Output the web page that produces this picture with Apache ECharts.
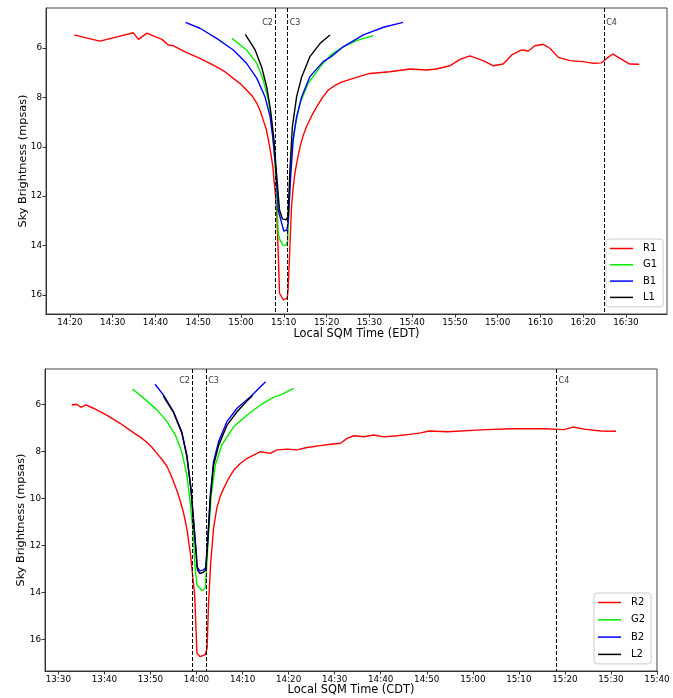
<!DOCTYPE html>
<html><head><meta charset="utf-8">
<script src="https://cdn.jsdelivr.net/npm/echarts@6/dist/echarts.min.js"></script>
<style>html,body{margin:0;padding:0;background:#fff}#c{width:673px;height:698px}</style>
</head><body><div id="c"></div>
<script>
// ---------- Data (time "HH:MM.m", sky brightness mpsas) ----------
const r1 = [['14:21',5.47],['14:24',5.60],['14:27',5.72],['14:31',5.55],['14:34.8',5.38],['14:36',5.65],['14:38',5.40],['14:39.9',5.54],['14:41.5',5.65],['14:43',5.88],['14:44.2',5.91],['14:47.3',6.19],['14:50.4',6.42],['14:54.3',6.76],['14:56.3',6.97],['14:58.2',7.23],['14:59.8',7.44],['15:01.3',7.70],['15:02.6',7.94],['15:03.7',8.24],['15:04.5',8.55],['15:05.2',8.92],['15:05.9',9.29],['15:06.4',9.72],['15:06.8',10.1],['15:07.2',10.53],['15:07.5',10.9],['15:07.7',11.34],['15:08',11.85],['15:08.3',12.43],['15:08.7',14.31],['15:09',15.93],['15:09.9',16.20],['15:10.3',16.27],['15:10.8',16.13],['15:11',15.80],['15:11.4',14.18],['15:11.8',12.43],['15:12.2',11.65],['15:12.6',11.07],['15:13.2',10.5],['15:13.8',10.0],['15:14.5',9.56],['15:15.3',9.19],['15:16.5',8.75],['15:17.7',8.38],['15:19',8.02],['15:20.4',7.70],['15:21.9',7.52],['15:23.5',7.38],['15:27',7.19],['15:30.1',7.03],['15:34.8',6.96],['15:39.5',6.85],['15:43.4',6.89],['15:45.7',6.85],['15:48.8',6.72],['15:51.2',6.46],['15:53.5',6.32],['15:56.6',6.51],['15:59',6.72],['16:01.3',6.65],['16:03.3',6.28],['16:05.6',6.08],['16:07.2',6.12],['16:08.7',5.91],['16:10.7',5.85],['16:12.2',6.01],['16:14.2',6.38],['16:16.9',6.51],['16:20',6.55],['16:22.4',6.62],['16:24.3',6.60],['16:25.5',6.42],['16:26.9',6.24],['16:28.6',6.42],['16:30.9',6.65],['16:33.1',6.66]];
const g1 = [['14:57.9',5.61],['15:01.3',6.08],['15:03.7',6.62],['15:05.2',7.30],['15:06.4',8.11],['15:07.2',9.05],['15:07.7',10.13],['15:08.2',11.34],['15:08.7',13.50],['15:09.1',13.77],['15:09.9',14.0],['15:10.5',13.98],['15:10.9',13.84],['15:11.3',12.15],['15:11.8',10.13],['15:12.6',9.19],['15:13.8',8.24],['15:15.7',7.43],['15:18.5',6.76],['15:21',6.28],['15:23.9',5.95],['15:27',5.70],['15:30.9',5.50]];
const b1 = [['14:47',4.96],['14:50.4',5.20],['14:54.3',5.61],['14:58.2',6.08],['15:01.3',6.62],['15:03.7',7.23],['15:05.6',7.97],['15:06.8',8.78],['15:07.5',9.72],['15:08.2',11.07],['15:08.7',12.56],['15:09.3',12.96],['15:10',13.41],['15:10.7',13.37],['15:11',13.10],['15:11.6',11.21],['15:12.2',9.72],['15:13',8.78],['15:14.2',7.97],['15:16.1',7.16],['15:19.2',6.55],['15:21',6.36],['15:23.9',5.95],['15:28.6',5.47],['15:33.3',5.16],['15:37.9',4.96]];
const l1 = [['15:01',5.45],['15:03.3',6.08],['15:04.8',6.76],['15:06',7.57],['15:06.9',8.51],['15:07.7',9.72],['15:08.3',11.07],['15:09',12.56],['15:09.7',12.92],['15:10.5',12.96],['15:11',12.83],['15:11.4',11.07],['15:12',9.19],['15:13',7.97],['15:14.2',7.16],['15:16.1',6.35],['15:18.5',5.81],['15:20.8',5.47]];

const r2 = [['13:32.9',6.03],['13:34',6.00],['13:34.9',6.13],['13:36',6.03],['13:37.6',6.17],['13:40.5',6.46],['13:43.4',6.81],['13:46.3',7.21],['13:47.8',7.40],['13:49.2',7.62],['13:50.3',7.83],['13:51.4',8.09],['13:52.5',8.35],['13:53.6',8.65],['13:54.3',8.95],['13:55',9.29],['13:55.8',9.70],['13:56.5',10.14],['13:57.1',10.55],['13:57.6',11.0],['13:58',11.4],['13:58.3',11.85],['13:58.7',12.4],['13:59',12.98],['13:59.6',14.11],['14:00.1',16.6],['14:00.8',16.74],['14:01.2',16.81],['14:01.9',16.65],['14:02.3',16.38],['14:02.6',14.54],['14:03.1',12.70],['14:03.7',11.28],['14:04.4',10.43],['14:05.1',9.95],['14:05.9',9.58],['14:07',9.15],['14:08.1',8.80],['14:09.5',8.52],['14:11',8.30],['14:13.9',8.02],['14:16',8.09],['14:17.5',7.94],['14:19.7',7.91],['14:21.8',7.94],['14:24',7.84],['14:26.9',7.76],['14:29.1',7.70],['14:31.3',7.66],['14:32.7',7.45],['14:34.2',7.34],['14:36.3',7.38],['14:38.5',7.31],['14:40.7',7.39],['14:43.6',7.34],['14:47.2',7.26],['14:48.7',7.22],['14:50.5',7.14],['14:54.5',7.17],['15:01.7',7.09],['15:08.2',7.04],['15:15.5',7.04],['15:19.8',7.08],['15:21.7',6.97],['15:24.2',7.06],['15:27.8',7.14],['15:31.1',7.15]];
const g2 = [['13:46.1',5.35],['13:48.5',5.74],['13:51.4',6.24],['13:53.6',6.74],['13:55.4',7.31],['13:56.8',8.02],['13:57.9',9.01],['13:58.6',10.14],['13:59.2',11.28],['13:59.7',12.98],['14:00.1',13.69],['14:00.8',13.83],['14:01.2',13.93],['14:01.9',13.83],['14:02.1',13.26],['14:02.6',11.56],['14:03.2',9.86],['14:04.1',8.58],['14:05.5',7.73],['14:08.1',6.95],['14:11',6.46],['14:13.9',6.03],['14:16.8',5.70],['14:18.3',5.60],['14:21.1',5.32]];
const b2 = [['13:51',5.15],['13:52.8',5.60],['13:55',6.31],['13:56.8',7.17],['13:57.9',8.16],['13:58.8',9.58],['13:59.4',11.0],['14:00',12.41],['14:00.1',12.91],['14:00.7',13.09],['14:01',13.15],['14:01.5',13.05],['14:02',12.94],['14:02.4',11.85],['14:03',9.86],['14:03.7',8.44],['14:04.8',7.59],['14:06.6',6.74],['14:08.8',6.17],['14:11.7',5.68],['14:15',5.04]];
const l2 = [['13:52.8',5.65],['13:55',6.35],['13:56.8',7.22],['13:57.9',8.22],['13:58.8',9.65],['13:59.4',11.1],['14:00',12.6],['14:00.2',13.05],['14:00.7',13.2],['14:01',13.27],['14:01.5',13.15],['14:02',13.05],['14:02.4',12.0],['14:03',10.0],['14:03.7',8.6],['14:04.8',7.75],['14:06.6',6.9],['14:08.8',6.32],['14:11',5.85],['14:12.2',5.63]];

// contact times
const eventNames = ['C2','C3','C4'];
const events1 = ['15:07.9','15:10.9','16:24.9'];
const events2 = ['13:59','14:02.1','15:18.2'];

// tick labels
const xTicks1 = ['14:20','14:30','14:40','14:50','15:00','15:10','15:20','15:30','15:40','15:50','16:00','16:10','16:20','16:30'];
const xTickLabels1 = ['14:20','14:30','14:40','14:50','15:00','15:10','15:20','15:30','15:40','15:50','15:00','16:10','16:20','16:30'];
const xTicks2 = ['13:30','13:40','13:50','14:00','14:10','14:20','14:30','14:40','14:50','15:00','15:10','15:20','15:30','15:40'];
const xTickLabels2 = xTicks2.slice();
const yTicks = [6,8,10,12,14,16];

const names1 = ['R1','G1','B1','L1'];
const names2 = ['R2','G2','B2','L2'];
const colors = ['#ff0000','#00ee00','#0000ff','#000000'];

// ---------- helpers ----------
function tm(s){const p=s.split(':');return (+p[0])*60+parseFloat(p[1]);}
function conv(a){return a.map(d=>[tm(d[0]),d[1]]);}
function fmt(ticks,labels){const v=ticks.map(tm);return function(x){for(let i=0;i<v.length;i++){if(Math.abs(v[i]-x)<0.01)return labels[i];}return '';};}

const FONT='DejaVu Sans';
const axisCol='#333';

function xAxisCfg(gi,min,max,ticks,labels,name,gap){
  return {type:'value',gridIndex:gi,min:min,max:max,
    name:name,nameLocation:'middle',nameGap:gap,nameMoveOverlap:false,
    nameTextStyle:{fontFamily:FONT,fontSize:11.4,color:'#000'},
    axisLine:{show:true,onZero:false,lineStyle:{color:axisCol,width:1}},
    axisTick:{show:true,length:3.5,customValues:ticks.map(tm),lineStyle:{color:axisCol}},
    axisLabel:{customValues:ticks.map(tm),formatter:fmt(ticks,labels),fontFamily:FONT,fontSize:8.8,color:'#000',margin:4},
    splitLine:{show:false}};
}
function yAxisCfg(gi,min,max,gap){
  return {type:'value',gridIndex:gi,min:min,max:max,inverse:true,
    name:'Sky Brightness (mpsas)',nameLocation:'middle',nameGap:gap,nameMoveOverlap:false,
    nameTextStyle:{fontFamily:FONT,fontSize:11.3,color:'#000'},
    axisLine:{show:true,onZero:false,lineStyle:{color:axisCol,width:1}},
    axisTick:{show:true,length:3.5,customValues:yTicks,lineStyle:{color:axisCol}},
    axisLabel:{customValues:yTicks,fontFamily:FONT,fontSize:8.8,color:'#000',margin:4},
    splitLine:{show:false}};
}

const series=[];
function addChart(idx,datas,names,events){
  datas.forEach((d,i)=>{
    const s={type:'line',name:names[i],xAxisIndex:idx,yAxisIndex:idx,data:conv(d),
      showSymbol:false,symbol:'none',smooth:false,animation:false,
      lineStyle:{color:colors[i],width:1.4},itemStyle:{color:colors[i]},z:2+i};
    series.push(s);
  });
  // dashed contact lines
  series.push({type:'line',xAxisIndex:idx,yAxisIndex:idx,data:[],silent:true,animation:false,z:10,
    markLine:{silent:true,symbol:'none',animation:false,label:{show:false},
      lineStyle:{color:'#000',type:[4,2],width:1},
      data:events.map(t=>({xAxis:tm(t)}))}});
  // contact labels
  series.push({type:'scatter',xAxisIndex:idx,yAxisIndex:idx,symbolSize:0,silent:true,animation:false,z:11,
    data:events.map((t,i)=>({value:[tm(t),5.0],name:eventNames[i],
      label:{show:true,position:i===0?'left':'right',distance:2,formatter:eventNames[i],
        fontFamily:FONT,fontSize:8,color:'#000'}}))});
}
addChart(0,[r1,g1,b1,l1],names1,events1);
addChart(1,[r2,g2,b2,l2],names2,events2);

function legendCfg(names,left,top,gap){
  return {data:names,orient:'vertical',left:left,top:top,icon:'rect',itemWidth:23,itemHeight:1.5,
    itemGap:gap,padding:[3,6,3,4],borderColor:'#ccc',borderWidth:1,borderRadius:3,backgroundColor:'#fff',
    textStyle:{fontFamily:FONT,fontSize:10,color:'#000',lineHeight:13,padding:[0,0,0,5]}};
}

const option={
  animation:false,
  backgroundColor:'#fff',
  grid:[
    {left:46,top:8,width:621,height:306,show:true,borderColor:'#444',borderWidth:1,backgroundColor:'transparent'},
    {left:45,top:369,width:612,height:302,show:true,borderColor:'#444',borderWidth:1,backgroundColor:'transparent'}
  ],
  xAxis:[
    xAxisCfg(0,tm('14:14.4'),tm('16:39.6'),xTicks1,xTickLabels1,'Local SQM Time (EDT)',14.5),
    xAxisCfg(1,tm('13:27.1'),tm('15:40'),xTicks2,xTickLabels2,'Local SQM Time (CDT)',14)
  ],
  yAxis:[yAxisCfg(0,4.38,16.77,17),yAxisCfg(1,4.50,17.35,18.5)],
  legend:[legendCfg(names1,606,239,3.3),legendCfg(names2,594,593,4.3)],
  series:series
};
const chart=echarts.init(document.getElementById('c'),null,{renderer:'canvas'});
chart.setOption(option);
</script></body></html>
